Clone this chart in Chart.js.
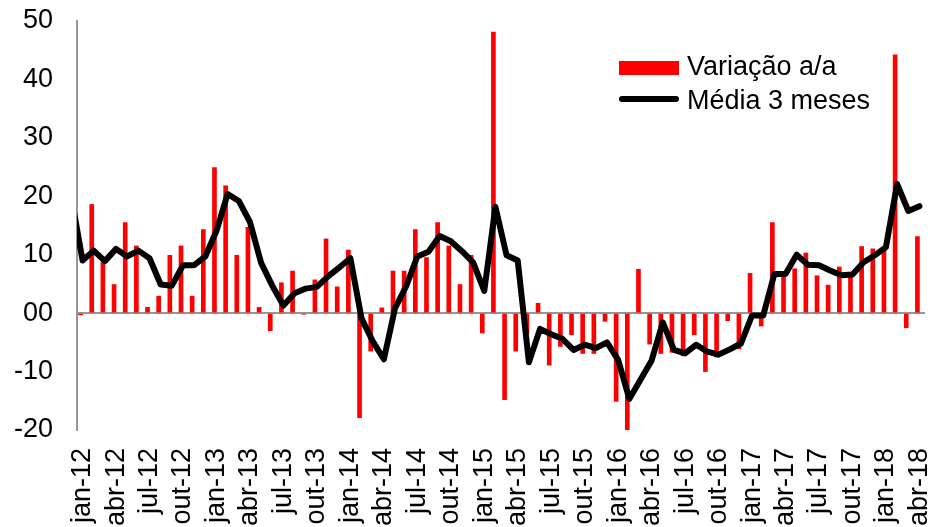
<!DOCTYPE html>
<html lang="pt-BR">
<head>
<meta charset="UTF-8">
<title>Variação a/a e média 3 meses</title>
<script src="https://cdn.jsdelivr.net/npm/chart.js@4"></script>
<style>
  html, body { margin: 0; padding: 0; background: #fff; }
  #wrap { width: 928px; height: 527px; }
</style>
</head>
<body>
<div id="wrap"><canvas id="chart" width="928" height="527"></canvas></div>

<script>
// categorias: jan-12 ate abr-18
const categories = [
  'jan-12','fev-12','mar-12','abr-12','mai-12','jun-12','jul-12','ago-12','set-12','out-12','nov-12','dez-12',
  'jan-13','fev-13','mar-13','abr-13','mai-13','jun-13','jul-13','ago-13','set-13','out-13','nov-13','dez-13',
  'jan-14','fev-14','mar-14','abr-14','mai-14','jun-14','jul-14','ago-14','set-14','out-14','nov-14','dez-14',
  'jan-15','fev-15','mar-15','abr-15','mai-15','jun-15','jul-15','ago-15','set-15','out-15','nov-15','dez-15',
  'jan-16','fev-16','mar-16','abr-16','mai-16','jun-16','jul-16','ago-16','set-16','out-16','nov-16','dez-16',
  'jan-17','fev-17','mar-17','abr-17','mai-17','jun-17','jul-17','ago-17','set-17','out-17','nov-17','dez-17',
  'jan-18','fev-18','mar-18','abr-18'
];

// variacao a/a (%)
const variacao = [
  -0.3, 18.6, 8.7, 4.9, 15.5, 11.5, 1.0, 2.9, 9.9, 11.5, 2.9, 14.3,
  24.9, 21.8, 9.9, 14.7, 1.0, -3.0, 5.2, 7.2, -0.2, 5.7, 12.7, 4.5,
  10.8, -17.9, -6.5, 0.9, 7.2, 7.2, 14.3, 9.5, 15.5, 11.5, 4.9, 9.9,
  -3.4, 48.1, -14.8, -6.5, -3.5, 1.7, -8.9, -5.7, -3.7, -6.9, -6.9, -1.4,
  -15.1, -26.8, 7.5, -5.3, -6.9, -6.7, -7.3, -3.7, -10.0, -7.5, -1.3, -6.1,
  6.8, -2.2, 15.5, 6.8, 7.6, 10.3, 6.4, 4.8, 7.9, 7.0, 11.4, 11.0,
  10.8, 44.2, -2.5, 13.1
];

// media 3 meses; o primeiro valor (dez-11) so aparece cortado na borda do eixo
const media3Inicio = 19.8;
const media3 = [
  9.0, 10.7, 8.9, 11.0, 9.7, 10.7, 9.4, 4.9, 4.7, 8.2, 8.2, 9.7,
  14.1, 20.4, 19.2, 15.6, 8.6, 4.7, 1.3, 3.4, 4.2, 4.5, 6.3, 7.8,
  9.4, -0.9, -4.8, -7.9, 0.8, 4.6, 9.7, 10.5, 13.2, 12.3, 10.6, 8.7,
  3.8, 18.2, 9.9, 9.0, -8.4, -2.7, -3.6, -4.4, -6.3, -5.4, -6.0, -5.0,
  -8.0, -14.7, -11.4, -8.1, -1.6, -6.3, -6.9, -5.4, -6.6, -7.1, -6.2, -5.2,
  -0.4, -0.4, 6.7, 6.7, 10.0, 8.3, 8.2, 7.3, 6.5, 6.6, 8.7, 9.9,
  11.3, 22.1, 17.5, 18.3
];

const yTickValues = [-20, -10, 0, 10, 20, 30, 40, 50];
const yTickLabels = ['-20', '-10', '00', '10', '20', '30', '40', '50'];
const xTickEvery = 3;

const FONT = { family: '"Liberation Sans", Arial, sans-serif', size: 27 };
const AXIS_GRAY = '#969696';

// pontos da linha num eixo linear escondido, para deixar entrar o segmento de dez-11
const mediaPoints = [{ x: -1, y: media3Inicio }].concat(media3.map((v, i) => ({ x: i, y: v })));

// legenda dentro da area do grafico, canto superior direito
const legendBox = {
  id: 'legendBox',
  afterDatasetsDraw(chart) {
    const ctx = chart.ctx;
    const ds = chart.data.datasets;
    ctx.save();
    ctx.fillStyle = ds[0].backgroundColor;
    ctx.fillRect(619, 61, 60, 14);
    ctx.strokeStyle = ds[1].borderColor;
    ctx.lineWidth = 6;
    ctx.lineCap = 'round';
    ctx.beginPath();
    ctx.moveTo(622, 99);
    ctx.lineTo(676, 99);
    ctx.stroke();
    ctx.fillStyle = '#000';
    ctx.font = FONT.size + 'px ' + FONT.family;
    ctx.textBaseline = 'alphabetic';
    ctx.fillText(ds[0].label, 687, 75);
    ctx.fillText(ds[1].label, 687, 109);
    ctx.restore();
  }
};

new Chart(document.getElementById('chart'), {
  type: 'bar',
  data: {
    labels: categories,
    datasets: [{
      label: 'Variação a/a',
      data: variacao,
      backgroundColor: '#ff0000',
      barThickness: 4,
      clip: 0,
      order: 2
    }, {
      type: 'line',
      label: 'Média 3 meses',
      data: mediaPoints,
      xAxisID: 'xl',
      borderColor: '#000',
      borderWidth: 6,
      borderJoinStyle: 'round',
      borderCapStyle: 'round',
      pointRadius: 0,
      tension: 0,
      fill: false,
      clip: { left: 0, right: 6, top: 6, bottom: 6 },
      order: 1
    }]
  },
  options: {
    responsive: false,
    devicePixelRatio: 1,
    animation: false,
    layout: { padding: { top: 21, right: 3, left: 0, bottom: 0 } },
    plugins: { legend: { display: false }, tooltip: { enabled: false } },
    scales: {
      x: {
        offset: true,
        grid: { display: false, drawTicks: false },
        border: { display: false },
        ticks: {
          autoSkip: false,
          minRotation: 90,
          maxRotation: 90,
          padding: 18,
          color: '#000',
          font: FONT,
          callback: (v, i) => (i % xTickEvery === 0 ? categories[i] : '')
        },
        afterFit: s => { s.height = 97; s.paddingLeft = 0; s.paddingRight = 0; }
      },
      xl: {
        type: 'linear',
        display: false,
        offset: false,
        bounds: 'ticks',
        min: -0.5,
        max: categories.length - 0.5,
        afterFit: s => { s.height = 0; s.paddingLeft = 0; s.paddingRight = 0; }
      },
      y: {
        min: -20,
        max: 50,
        afterBuildTicks: s => { s.ticks = yTickValues.map(v => ({ value: v })); },
        grid: {
          drawTicks: false,
          lineWidth: 2,
          color: c => (c.tick && c.tick.value === 0 ? AXIS_GRAY : 'rgba(0,0,0,0)')
        },
        border: { display: true, color: AXIS_GRAY, width: 2 },
        ticks: {
          padding: 24,
          color: '#000',
          font: FONT,
          callback: (v, i) => yTickLabels[i]
        },
        afterFit: s => { s.width = 77; s.paddingTop = 0; s.paddingBottom = 0; }
      }
    }
  },
  plugins: [legendBox]
});
</script>
</body>
</html>
